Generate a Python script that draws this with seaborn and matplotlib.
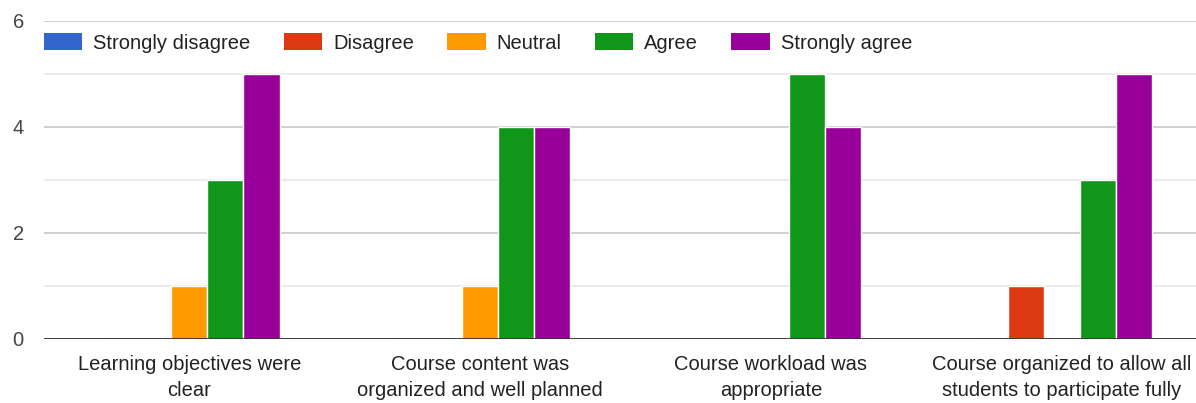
import pandas as pd
import numpy as np
import matplotlib
matplotlib.use("Agg")
import matplotlib.pyplot as plt
import seaborn as sns
from matplotlib.patches import Patch

# ---------------------------------------------------------
# Data (counts of responses per statement)
# ---------------------------------------------------------
questions = [
    "Learning objectives were\nclear",
    "Course content was\norganized and well planned",
    "Course workload was\nappropriate",
    "Course organized to allow all\nstudents to participate fully",
]
responses = ["Strongly disagree", "Disagree", "Neutral", "Agree", "Strongly agree"]
colors = ["#3366cc", "#dc3912", "#ff9900", "#109618", "#990099"]

strongly_disagree = [0, 0, 0, 0]
disagree = [0, 0, 0, 1]
neutral = [1, 1, 0, 0]
agree = [3, 4, 5, 3]
strongly_agree = [5, 4, 4, 5]

counts = [strongly_disagree, disagree, neutral, agree, strongly_agree]
rows = []
for resp, vals in zip(responses, counts):
    for q, v in zip(questions, vals):
        rows.append({"Question": q, "Response": resp, "Count": v})
df = pd.DataFrame(rows)

sns.set_style("white")
plt.rcParams["font.family"] = ["Liberation Sans", "DejaVu Sans"]

fig = plt.figure(figsize=(11.96, 4.03), dpi=100)
ax = fig.add_axes([44 / 1196, (403 - 339) / 403, (1207 - 44) / 1196, 318 / 403])

sns.barplot(data=df, x="Question", y="Count", hue="Response",
            order=questions, hue_order=responses, palette=colors, saturation=1,
            width=0.62, edgecolor="white", linewidth=1.0,
            errorbar=None, legend=False, ax=ax, zorder=3)

ax.set_ylim(0, 6)
ax.set_xlim(-0.5, 3.5)
ax.set_yticks([0, 2, 4, 6])
ax.set_yticks([1, 3, 5], minor=True)
ax.grid(axis="y", which="major", color="#cccccc", linewidth=1.3, zorder=0)
ax.grid(axis="y", which="minor", color="#ebebeb", linewidth=1.3, zorder=0)
ax.axhline(0, color="#333333", linewidth=1.3, zorder=4)
for s in ax.spines.values():
    s.set_visible(False)

ax.set_xlabel("")
ax.set_ylabel("")
ax.tick_params(axis="y", which="both", length=0, pad=14.5, labelsize=14.5, labelcolor="#444444")
ax.tick_params(axis="x", length=0, pad=11.5, labelsize=14.5, labelcolor="#222222")
for lbl in ax.get_xticklabels():
    lbl.set_linespacing(1.45)

handles = [Patch(facecolor=c, edgecolor="none", label=r) for c, r in zip(colors, responses)]
ax.legend(handles=handles, loc="upper left", bbox_to_anchor=(0.0, 0.962),
          ncol=5, frameon=False, fontsize=14.5, handlelength=1.9, handleheight=0.95,
          handletextpad=0.55, columnspacing=1.65, borderaxespad=0, borderpad=0,
          labelcolor="#222222")

plt.savefig("out.png", dpi=100)
plt.close()
